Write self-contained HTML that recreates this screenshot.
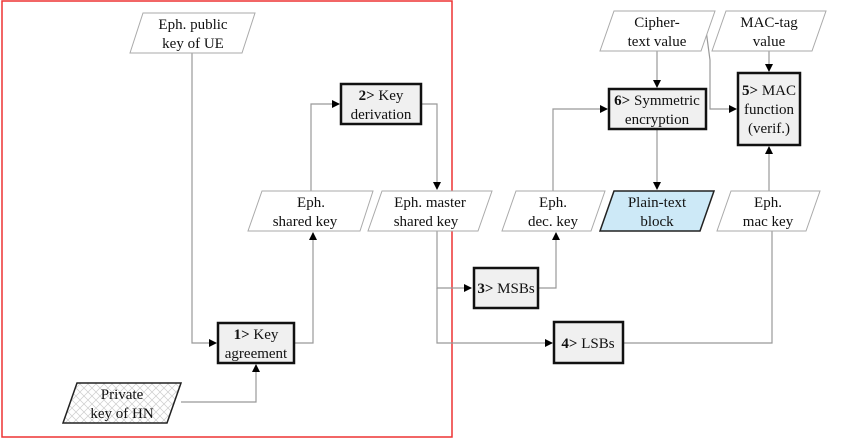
<!DOCTYPE html>
<html><head><style>body{margin:0;background:#fff}svg{display:block}</style></head><body>
<svg width="866" height="439" xmlns="http://www.w3.org/2000/svg" font-family="Liberation Serif, serif" font-size="15" text-anchor="middle">
<defs>
<marker id="a" markerWidth="8" markerHeight="8" refX="7" refY="4" orient="auto" markerUnits="userSpaceOnUse"><path d="M0,0L8,4L0,8z" fill="#000"/></marker>
<pattern id="h" width="8" height="8" patternUnits="userSpaceOnUse"><path d="M0,0L8,8M8,0L0,8" stroke="#ccc" stroke-width="0.7"/></pattern>
</defs>
<rect x="2" y="1" width="450" height="436" fill="none" stroke="#e33" stroke-width="1.5"/>
<g fill="none" stroke="#999" stroke-width="1.2">
<path d="M192,53V343H216" marker-end="url(#a)"/>
<path d="M181,402H256V365" marker-end="url(#a)"/>
<path d="M294,343H313V233" marker-end="url(#a)"/>
<path d="M311,191V104H339" marker-end="url(#a)"/>
<path d="M421,104H437V189" marker-end="url(#a)"/>
<path d="M437,231V288H471" marker-end="url(#a)"/>
<path d="M437,288V343H552" marker-end="url(#a)"/>
<path d="M538,288H556V233" marker-end="url(#a)"/>
<path d="M553,191V109H607" marker-end="url(#a)"/>
<path d="M657,51V87" marker-end="url(#a)"/>
<path d="M706,30L710,60V109H736" marker-end="url(#a)"/>
<path d="M769,51V71" marker-end="url(#a)"/>
<path d="M657,129V189" marker-end="url(#a)"/>
<path d="M769,191V147" marker-end="url(#a)"/>
<path d="M623,343H772V231"/>
</g>
<g stroke="#aaa" stroke-width="1" fill="#fff">
<path d="M143,13H255L242,53H130z"/>
<path d="M262,191H373L360,231H248z"/>
<path d="M382,191H492L478,231H368z"/>
<path d="M516,191H605L591,231H502z"/>
<path d="M614,11H715L701,51H600z"/>
<path d="M726,11H826L812,51H712z"/>
<path d="M731,191H820L806,231H717z"/>
</g>
<path d="M614,191H714L700,231H600z" fill="#cde9f7" stroke="#222" stroke-width="1.5"/>
<path d="M77,383H181L167,423H63z" fill="url(#h)" stroke="#222" stroke-width="1.5"/>
<g fill="#f0f0f0" stroke="#111" stroke-width="2.5">
<rect x="218" y="323" width="76" height="40"/>
<rect x="341" y="84" width="80" height="40"/>
<rect x="474" y="268" width="64" height="40"/>
<rect x="554" y="322" width="69" height="41"/>
<rect x="609" y="89" width="97" height="40"/>
<rect x="738" y="73" width="62" height="72"/>
</g>
<g fill="#111">
<text x="193" y="29">Eph. public</text><text x="193" y="48">key of UE</text>
<text x="311" y="207">Eph.</text><text x="305" y="226">shared key</text>
<text x="430" y="207">Eph. master</text><text x="426" y="226">shared key</text>
<text x="553" y="207">Eph.</text><text x="553" y="226">dec. key</text>
<text x="657" y="207">Plain-text</text><text x="657" y="226">block</text>
<text x="768" y="207">Eph.</text><text x="768" y="226">mac key</text>
<text x="657" y="27">Cipher-</text><text x="657" y="46">text value</text>
<text x="769" y="27">MAC-tag</text><text x="769" y="46">value</text>
<text x="122" y="399">Private</text><text x="122" y="418">key of HN</text>
<text x="256" y="339"><tspan font-weight="bold">1&gt;</tspan> Key</text><text x="256" y="358">agreement</text>
<text x="381" y="100"><tspan font-weight="bold">2&gt;</tspan> Key</text><text x="381" y="119">derivation</text>
<text x="506" y="293"><tspan font-weight="bold">3&gt;</tspan> MSBs</text>
<text x="588" y="348"><tspan font-weight="bold">4&gt;</tspan> LSBs</text>
<text x="657" y="105"><tspan font-weight="bold">6&gt;</tspan> Symmetric</text><text x="657" y="124">encryption</text>
<text x="769" y="95"><tspan font-weight="bold">5&gt;</tspan> MAC</text><text x="769" y="114">function</text><text x="769" y="133">(verif.)</text>
</g>
</svg>
</body></html>
